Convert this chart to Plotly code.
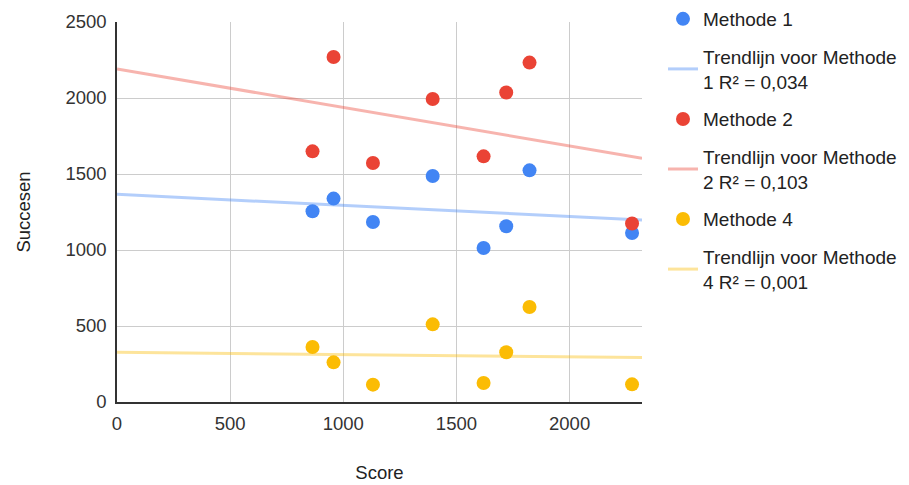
import numpy as np
import plotly.graph_objects as go

# Shared x values (Score) for every method
score = [864, 957, 1131, 1395, 1620, 1720, 1823, 2276]

# Successes per method
methode_1 = [1255, 1338, 1184, 1487, 1013, 1156, 1524, 1112]
methode_2 = [1649, 2270, 1572, 1993, 1616, 2036, 2233, 1174]
methode_4 = [362, 261, 114, 511, 125, 327, 625, 116]

series_names = ["Methode 1", "Methode 2", "Methode 4"]
trend_names = [
    "Trendlijn voor Methode<br>1 R² = 0,034",
    "Trendlijn voor Methode<br>2 R² = 0,103",
    "Trendlijn voor Methode<br>4 R² = 0,001",
]
colors = ["#4285F4", "#EA4335", "#FBBC04"]
trend_colors = ["rgba(66,133,244,0.4)", "rgba(234,67,53,0.4)", "rgba(251,188,4,0.4)"]

x_max = 2320
y_max = 2500

FONT = "Arial, Liberation Sans, sans-serif"
FS = 18.5
LEGEND_FS = 19

fig = go.Figure()
x_arr = np.array(score, dtype=float)
all_series = [methode_1, methode_2, methode_4]

# Linear trend lines across the whole x axis (drawn beneath the points)
for i, ys in enumerate(all_series):
    slope, intercept = np.polyfit(x_arr, np.array(ys, dtype=float), 1)
    xs = np.array([0, x_max], dtype=float)
    fig.add_trace(go.Scatter(
        x=xs, y=slope * xs + intercept, mode="lines",
        line=dict(color=trend_colors[i], width=3),
        name=trend_names[i], legendgroup=f"t{i}", legendrank=2 * i + 2,
        hoverinfo="skip",
    ))

for i, ys in enumerate(all_series):
    fig.add_trace(go.Scatter(
        x=score, y=ys, mode="markers",
        marker=dict(color=colors[i], size=14, line=dict(width=0)),
        name=series_names[i], legendgroup=f"s{i}", legendrank=2 * i + 1,
    ))

fig.update_layout(
    width=909, height=485,
    margin=dict(l=117, r=267, t=22, b=83, autoexpand=False),
    paper_bgcolor="white", plot_bgcolor="white",
    font=dict(family=FONT, size=FS, color="#222"),
    legend=dict(
        xref="container", yref="container",
        x=663 / 909, xanchor="left", y=1.013, yanchor="top",
        font=dict(family=FONT, size=LEGEND_FS, color="#222"),
        tracegroupgap=10, bgcolor="rgba(0,0,0,0)",
        maxheight=480,
    ),
    showlegend=True,
)

fig.update_xaxes(
    range=[0, x_max], tickvals=[0, 500, 1000, 1500, 2000],
    showgrid=True, gridcolor="#cccccc", gridwidth=1,
    showline=True, linecolor="#333333", linewidth=1.5,
    zeroline=False, ticks="", ticklabelstandoff=4, automargin=False,
    tickfont=dict(family=FONT, size=FS, color="#333"),
    title=dict(text="Score", standoff=33, font=dict(family=FONT, size=FS, color="#222")),
)
fig.update_yaxes(
    range=[0, y_max], tickvals=[0, 500, 1000, 1500, 2000, 2500],
    showgrid=True, gridcolor="#cccccc", gridwidth=1,
    showline=True, linecolor="#333333", linewidth=1.5,
    zeroline=False, ticks="", ticklabelstandoff=5, automargin=False,
    tickfont=dict(family=FONT, size=FS, color="#333"),
    title=dict(text="Succesen", standoff=30, font=dict(family=FONT, size=FS, color="#222")),
)

fig.write_html("out.html")
